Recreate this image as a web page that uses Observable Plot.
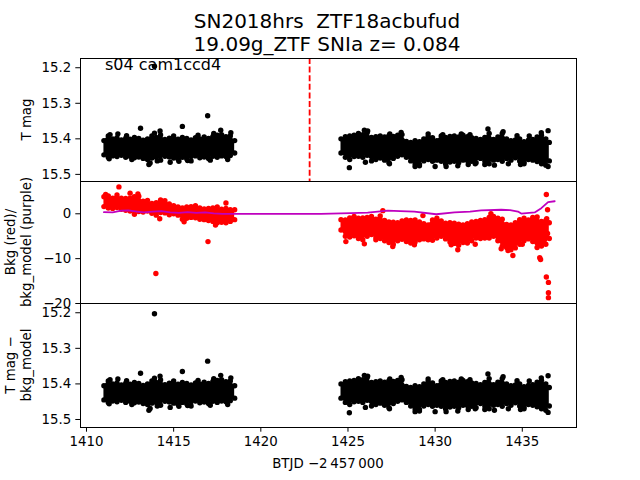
<!DOCTYPE html>
<html>
<head>
<meta charset="utf-8">
<script src="https://cdn.jsdelivr.net/npm/d3@7"></script>
<script src="https://cdn.jsdelivr.net/npm/@observablehq/plot@0.6"></script>
<style>
  html, body { margin: 0; padding: 0; background: white; }
  #chart { position: relative; width: 640px; height: 480px; font-family: "DejaVu Sans", sans-serif; }
  #chart svg { position: absolute; left: 0; top: 0; }
</style>
</head>
<body>
<div id="chart"></div>
<script>
// ---------------- DATA ----------------
const titleLines = ["SN2018hrs\u00A0 ZTF18acbufud", "19.09g_ZTF SNIa z= 0.084"];
const sectorText = "s04 cam1ccd4";
const xLabel = "BTJD \u22122\u202F457\u202F000";
const xTicks = [1410, 1415, 1420, 1425, 1430, 1435];
const magTicks = [15.2, 15.3, 15.4, 15.5];
const bkgTicks = [-20, -10, 0];
const discoveryDates = [1422.8];

// time samples of the two observing orbits
const tLeft = [1411.0, 1411.25, 1411.5, 1411.75, 1412.0, 1412.25, 1412.5, 1412.75, 1413.0, 1413.25, 1413.5, 1413.75, 1414.0, 1414.25, 1414.5, 1414.75, 1415.0, 1415.25, 1415.5, 1415.75, 1416.0, 1416.25, 1416.5, 1416.75, 1417.0, 1417.25, 1417.5, 1417.75, 1418.0, 1418.25, 1418.5];
const tRight = [1424.6, 1424.85, 1425.1, 1425.35, 1425.6, 1425.85, 1426.1, 1426.35, 1426.6, 1426.85, 1427.1, 1427.35, 1427.6, 1427.85, 1428.1, 1428.35, 1428.6, 1428.85, 1429.1, 1429.35, 1429.6, 1429.85, 1430.1, 1430.35, 1430.6, 1430.85, 1431.1, 1431.35, 1431.6, 1431.85, 1432.1, 1432.35, 1432.6, 1432.85, 1433.1, 1433.35, 1433.6, 1433.85, 1434.1, 1434.35, 1434.6, 1434.85, 1435.1, 1435.35, 1435.6, 1435.85, 1436.1, 1436.35, 1436.55];

// T mag: bright (upper) and faint (lower) envelope of the point cloud
const magTopLeft = [15.405, 15.392, 15.400, 15.397, 15.403, 15.398, 15.401, 15.396, 15.399, 15.404, 15.400, 15.392, 15.396, 15.389, 15.402, 15.398, 15.392, 15.401, 15.396, 15.399, 15.403, 15.397, 15.400, 15.395, 15.399, 15.393, 15.390, 15.388, 15.394, 15.392, 15.405];
const magBotLeft = [15.445, 15.452, 15.448, 15.450, 15.446, 15.452, 15.449, 15.453, 15.451, 15.455, 15.458, 15.454, 15.452, 15.460, 15.449, 15.451, 15.454, 15.457, 15.452, 15.456, 15.450, 15.448, 15.453, 15.451, 15.455, 15.449, 15.452, 15.448, 15.450, 15.447, 15.440];
const magTopRight = [15.400, 15.394, 15.392, 15.390, 15.385, 15.388, 15.383, 15.396, 15.394, 15.392, 15.395, 15.391, 15.393, 15.390, 15.388, 15.407, 15.410, 15.405, 15.408, 15.400, 15.393, 15.397, 15.405, 15.392, 15.396, 15.393, 15.392, 15.395, 15.390, 15.394, 15.397, 15.399, 15.402, 15.396, 15.385, 15.402, 15.395, 15.385, 15.400, 15.405, 15.403, 15.400, 15.408, 15.404, 15.402, 15.395, 15.390, 15.400, 15.410];
const magBotRight = [15.440, 15.452, 15.458, 15.450, 15.449, 15.452, 15.446, 15.462, 15.458, 15.454, 15.460, 15.467, 15.455, 15.449, 15.445, 15.452, 15.462, 15.470, 15.472, 15.462, 15.458, 15.463, 15.460, 15.463, 15.470, 15.465, 15.463, 15.467, 15.460, 15.461, 15.463, 15.467, 15.455, 15.462, 15.470, 15.460, 15.458, 15.463, 15.455, 15.460, 15.453, 15.462, 15.465, 15.458, 15.460, 15.464, 15.470, 15.474, 15.462];
const magOutliers = [[1413.9, 15.196], [1411.35, 15.388], [1411.8, 15.386], [1413.1, 15.370], [1413.9, 15.384], [1414.22, 15.378], [1415.5, 15.365], [1416.95, 15.335], [1417.7, 15.376], [1418.28, 15.383], [1412.3, 15.391], [1416.4, 15.390], [1417.3, 15.385],
  [1413.58, 15.472], [1413.65, 15.468], [1414.06, 15.462], [1414.8, 15.466], [1415.3, 15.463], [1415.8, 15.461], [1416.0, 15.462], [1412.6, 15.458], [1411.3, 15.456], [1417.1, 15.460], [1418.1, 15.458],
  [1425.94, 15.376], [1426.13, 15.378], [1427.4, 15.386], [1428.05, 15.382], [1429.6, 15.386], [1430.44, 15.388], [1431.5, 15.386], [1433.03, 15.372], [1433.9, 15.380], [1436.09, 15.383], [1436.48, 15.377], [1432.0, 15.388], [1434.7, 15.391], [1435.4, 15.392],
  [1425.08, 15.481], [1427.38, 15.470], [1428.85, 15.478], [1429.1, 15.476], [1430.0, 15.478], [1430.63, 15.478], [1431.3, 15.476], [1432.3, 15.470], [1432.85, 15.472], [1433.4, 15.474], [1434.2, 15.470], [1435.1, 15.470], [1436.48, 15.478], [1426.0, 15.466], [1431.9, 15.472], [1434.9, 15.472]];
const diffOutliers = [[1413.9, 15.203], [1411.35, 15.388], [1411.8, 15.386], [1413.1, 15.370], [1413.9, 15.384], [1414.22, 15.378], [1415.5, 15.365], [1416.95, 15.336], [1417.7, 15.376], [1418.28, 15.383], [1412.3, 15.391], [1416.4, 15.390], [1417.3, 15.385],
  [1413.58, 15.474], [1413.65, 15.469], [1414.06, 15.462], [1414.8, 15.466], [1415.3, 15.463], [1415.8, 15.461], [1416.0, 15.462], [1412.6, 15.458], [1411.3, 15.456], [1417.1, 15.460], [1418.1, 15.458],
  [1425.94, 15.376], [1426.13, 15.378], [1427.4, 15.386], [1428.05, 15.382], [1429.6, 15.386], [1430.44, 15.388], [1431.5, 15.386], [1433.03, 15.372], [1433.9, 15.380], [1436.09, 15.383], [1436.48, 15.377], [1432.0, 15.388], [1434.7, 15.391], [1435.4, 15.392],
  [1425.08, 15.481], [1427.38, 15.470], [1428.85, 15.478], [1429.1, 15.476], [1430.0, 15.478], [1430.63, 15.478], [1431.3, 15.476], [1432.3, 15.470], [1432.85, 15.472], [1433.4, 15.474], [1434.2, 15.470], [1435.1, 15.470], [1436.48, 15.480], [1426.0, 15.466], [1431.9, 15.472], [1434.9, 15.472]];

// Background flux: upper and lower envelope of the red cloud
const bkgTopLeft = [3.8, 4.0, 3.5, 4.2, 3.5, 3.4, 3.5, 3.8, 3.9, 2.8, 3.0, 2.3, 2.5, 3.1, 2.9, 2.2, 1.8, 1.5, 1.3, 1.5, 1.6, 1.8, 1.3, 1.1, 1.2, 1.3, 1.5, 1.0, 1.2, 0.9, 0.9];
const bkgBotLeft = [1.6, 1.3, 1.2, 1.4, 1.0, 0.8, 0.6, -0.1, 0.5, 0.4, 0.6, 0.1, -0.3, 0.3, 0.2, -0.2, 0.0, -0.3, -1.2, -1.0, -0.8, -0.9, -1.2, -1.3, -1.5, -1.7, -2.0, -1.9, -2.0, -1.7, -1.3];
const bkgTopRight = [-1.3, -1.4, -0.9, -0.6, -1.0, -0.9, -0.8, -0.6, -1.2, -0.5, -1.5, -1.8, -1.9, -2.0, -1.6, -1.4, -1.5, -1.4, -1.8, -2.2, -2.5, -1.4, -1.0, -1.6, -2.1, -2.0, -2.1, -2.3, -2.5, -2.2, -1.8, -1.7, -1.5, -1.3, -0.8, -0.6, -1.0, -1.2, -2.4, -2.5, -2.0, -1.3, -1.0, -1.4, -0.8, -0.7, -1.7, -1.5, -2.0];
const bkgBotRight = [-3.6, -5.0, -5.2, -4.9, -5.5, -5.8, -5.0, -4.6, -5.2, -5.5, -6.0, -6.4, -6.8, -6.0, -5.7, -6.2, -6.5, -6.3, -5.8, -5.6, -5.8, -5.9, -5.4, -5.0, -5.6, -6.3, -6.6, -7.0, -6.4, -6.5, -6.0, -5.4, -5.5, -5.4, -5.4, -5.0, -6.0, -7.2, -7.5, -8.0, -7.6, -6.8, -6.0, -5.6, -6.2, -7.5, -7.2, -6.8, -5.5];
const bkgOutliers = [[1411.86, 6.0], [1412.95, 4.4], [1411.1, 4.3], [1412.5, 4.6], [1414.2, -1.1], [1416.97, -6.2], [1413.98, -13.3], [1418.0, 2.4], [1415.6, -1.8], [1417.4, -2.5],
  [1424.88, -6.2], [1425.94, -6.7], [1426.6, -5.8], [1427.0, 0.7], [1427.57, -7.3], [1428.81, -6.9], [1430.92, -6.9], [1431.3, -8.0], [1432.3, -6.8], [1433.79, -7.8], [1434.18, -8.2], [1434.46, -9.3], [1435.0, -6.8], [1436.0, -9.8], [1436.05, -10.2], [1429.3, -0.4], [1433.2, 0.0],
  [1436.38, 4.3], [1436.45, 0.9], [1436.4, -1.1], [1436.45, -4.4], [1436.38, -14.1], [1436.5, -15.3], [1436.5, -17.6], [1436.5, -18.7]];

// background model (purple line)
const modelT = [1411.0, 1411.5, 1412.0, 1412.4, 1412.9, 1413.3, 1413.8, 1414.3, 1414.8, 1415.3, 1415.8, 1416.3, 1416.8, 1417.3, 1417.8, 1418.5, 1420.0, 1423.45, 1425.17, 1426.13, 1427.28, 1428.0, 1428.81, 1430.06, 1431.11, 1432.0, 1432.64, 1433.79, 1434.3, 1434.75, 1434.94, 1435.4, 1435.71, 1436.09, 1436.48, 1436.86];
const modelV = [0.35, 0.3, 0.7, 0.75, 0.5, 0.3, 0.5, 0.6, 0.3, 0.2, 0.35, 0.2, 0.3, 0.1, 0.0, 0.0, 0.0, 0.0, 0.15, 0.25, 0.7, 0.6, 0.5, -0.1, 0.3, 0.5, 0.75, 0.9, 0.8, 0.5, 0.05, 0.2, 0.3, 1.25, 2.6, 2.8];

// ---------------- BUILD ----------------
const xDomain = [1409.656, 1438.11];
const R = 2.7;
const band = (ts, lo, hi) => ts.map((t, i) => ({t, a: lo[i], b: hi[i]}));
const pts = (pairs) => pairs.map(([t, v]) => ({t, v}));

function cloudMarks(ts, top, bot, color) {
  const d = band(ts, top, bot);
  return [
    Plot.areaY(d, {x: "t", y1: "a", y2: "b", fill: color}),
    Plot.dot(d, {x: "t", y: "a", r: R, fill: color, stroke: "none"}),
    Plot.dot(d, {x: "t", y: "b", r: R, fill: color, stroke: "none"})
  ];
}

const baseStyle = {background: "transparent", fontFamily: "DejaVu Sans, sans-serif", fontSize: "13.33px", overflow: "visible", color: "black"};

function panel({marginTop, marginBottom, y, showX, marks}) {
  return Plot.plot({
    width: 640, height: 480,
    marginLeft: 80, marginRight: 64, marginTop, marginBottom,
    style: baseStyle,
    x: showX
      ? {domain: xDomain, ticks: xTicks, tickFormat: d3.format("d"), tickSize: 4.7, tickPadding: 4.5, label: null}
      : {domain: xDomain, axis: null},
    y: Object.assign({tickSize: 4.7, tickPadding: 4.5, label: null}, y),
    marks: [...marks, Plot.frame({stroke: "black", strokeWidth: 1})]
  });
}

const chart = document.getElementById("chart");

const p1 = panel({
  marginTop: 58, marginBottom: 299,
  y: {domain: [15.174, 15.52], reverse: true, ticks: magTicks, tickFormat: d3.format(".1f")},
  marks: [
    ...cloudMarks(tLeft, magTopLeft, magBotLeft, "black"),
    ...cloudMarks(tRight, magTopRight, magBotRight, "black"),
    Plot.dot(pts(magOutliers), {x: "t", y: "v", r: R, fill: "black", stroke: "none"}),
    Plot.ruleX(discoveryDates, {stroke: "red", strokeWidth: 1.8, strokeDasharray: "6,2.6"})
  ]
});

const p2 = panel({
  marginTop: 181, marginBottom: 177,
  y: {domain: [-20, 7.2], ticks: bkgTicks, tickFormat: d3.format("d")},
  marks: [
    ...cloudMarks(tLeft, bkgTopLeft, bkgBotLeft, "red"),
    ...cloudMarks(tRight, bkgTopRight, bkgBotRight, "red"),
    Plot.dot(pts(bkgOutliers), {x: "t", y: "v", r: R, fill: "red", stroke: "none"}),
    Plot.line(modelT.map((t, i) => ({t, v: modelV[i]})), {x: "t", y: "v", stroke: "#bf00bf", strokeWidth: 1.8})
  ]
});

const p3 = panel({
  marginTop: 303, marginBottom: 53, showX: true,
  y: {domain: [15.174, 15.5225], reverse: true, ticks: magTicks, tickFormat: d3.format(".1f")},
  marks: [
    ...cloudMarks(tLeft, magTopLeft, magBotLeft, "black"),
    ...cloudMarks(tRight, magTopRight, magBotRight, "black"),
    Plot.dot(pts(diffOutliers), {x: "t", y: "v", r: R, fill: "black", stroke: "none"})
  ]
});

chart.append(p1, p2, p3);

// text overlay (titles and axis labels)
const ns = "http://www.w3.org/2000/svg";
const ov = document.createElementNS(ns, "svg");
ov.setAttribute("width", 640); ov.setAttribute("height", 480);
ov.style.fontFamily = "DejaVu Sans, sans-serif";
ov.style.whiteSpace = "pre";
function addText(str, x, y, size, anchor, rotate) {
  const t = document.createElementNS(ns, "text");
  t.textContent = str;
  t.setAttribute("font-size", size);
  t.setAttribute("text-anchor", anchor);
  t.setAttribute("fill", "black");
  t.setAttribute("xml:space", "preserve");
  t.setAttribute("transform", `translate(${x},${y})` + (rotate ? " rotate(-90)" : ""));
  ov.appendChild(t);
}
addText(titleLines[0], 327, 28, 20, "middle");
addText(titleLines[1], 327, 50.5, 20, "middle");
addText(sectorText, 105, 70, 16, "start");
addText("T mag", 30.5, 119.5, 13.33, "middle", true);
addText("Bkg (red)/", 14.5, 242, 13.33, "middle", true);
addText("bkg_model (purple)", 30.5, 242, 13.33, "middle", true);
addText("T mag \u2212", 14.5, 365, 13.33, "middle", true);
addText("bkg_model", 30.5, 365, 13.33, "middle", true);
addText(xLabel, 328, 468, 13.33, "middle");
chart.append(ov);
</script>
</body>
</html>
